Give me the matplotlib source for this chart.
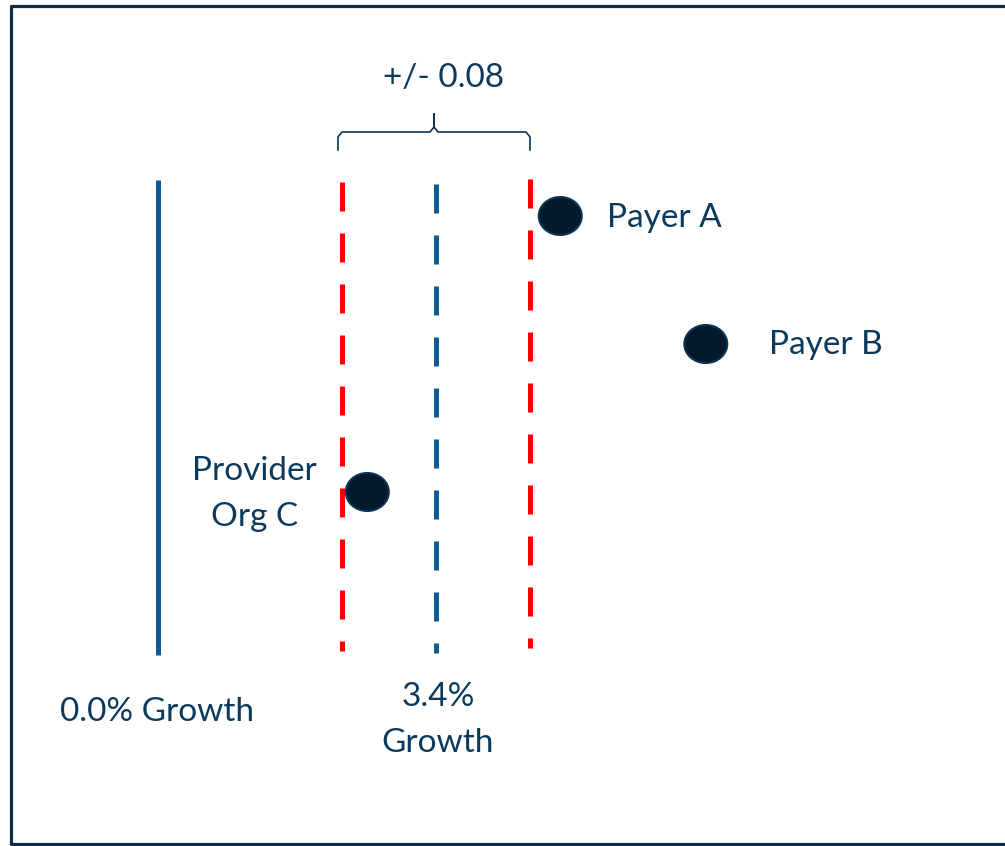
import numpy as np
import matplotlib
matplotlib.use("Agg")
import matplotlib.pyplot as plt
from matplotlib.patches import Ellipse
from matplotlib.lines import Line2D

plt.rcParams['font.family'] = ['Lato', 'DejaVu Sans']

# growth rates (%) and bands
base_growth = 0.0
target_growth = 3.4
band = 1.15
band_label = "+/- 0.08"

# organisations: growth (%) and vertical position (chart units, top = 0)
org_names = ["Payer A", "Payer B", "Provider\nOrg C"]
org_growth = [4.92, 6.70, 2.56]
org_pos = [216, 344, 492]

text_col = "#0b3a5c"
blue = "#0f5a91"
red = "#ff0000"
dot_col = "#021a2b"
fs = 24

px_per_pct = 81.76
fig = plt.figure(figsize=(10.05, 8.46), dpi=100)
ax = fig.add_axes([0, 0, 1, 1])
ax.set_xlim(-158 / px_per_pct, (1005 - 158) / px_per_pct)
ax.set_ylim(846, 0)
ax.axis("off")

def px(v):
    return v / px_per_pct

# frame (left, top, bottom; open on the right)
fig.add_artist(Line2D([1.2, 11 / 1005, 11 / 1005, 1.2],
                      [1 - 6 / 846, 1 - 6 / 846, 1 - 844 / 846, 1 - 844 / 846],
                      transform=fig.transFigure, color="#0d2e4a", lw=2.3))

# baseline
ax.plot([base_growth, base_growth], [180, 655], color=blue, lw=3.6, solid_capstyle="butt")
# target and band
ax.plot([target_growth, target_growth], [184, 653], color=blue, lw=3.6,
        dashes=(5.8, 4.4), dash_capstyle="butt")
ax.plot([target_growth - band] * 2, [182, 651], color=red, lw=3.6,
        dashes=(5.8, 4.4), dash_capstyle="butt")
ax.plot([target_growth + band] * 2, [179, 648], color=red, lw=3.6,
        dashes=(5.8, 4.4), dash_capstyle="butt")

# brace over band
l = target_growth - band - px(4)
r = target_growth + band
m = (l + r) / 2
c = px(4)
brace = [(l, 150), (l, 137), (l + c, 132), (m - c, 132), (m, 127), (m, 114),
         (m, 127), (m + c, 132), (r - c, 132), (r, 137), (r, 150)]
ax.plot([p[0] for p in brace], [p[1] for p in brace], color="#0d3452", lw=1.2)
ax.text(m + px(10), 78, band_label, color=text_col, fontsize=fs, ha="center", va="center")

# organisations
for name, g, y in zip(org_names, org_growth, org_pos):
    ax.add_patch(Ellipse((g, y), px(43), 38, facecolor=dot_col, edgecolor="#0f3352", lw=1.5, zorder=3))
ax.text(org_growth[0] + px(47), org_pos[0] + 2, org_names[0], color=text_col, fontsize=fs,
        ha="left", va="center")
ax.text(org_growth[1] + px(63), org_pos[1] + 1, org_names[1], color=text_col, fontsize=fs,
        ha="left", va="center")
ax.text(org_growth[2] - px(113), org_pos[2] + 2, org_names[2], color=text_col, fontsize=fs,
        ha="center", va="center", linespacing=1.68)

# axis labels
ax.text(base_growth - px(98), 712, f"{base_growth:.1f}% Growth", color=text_col, fontsize=fs,
        ha="left", va="center")
ax.text(target_growth + px(2), 720, f"{target_growth:.1f}%\nGrowth", color=text_col, fontsize=fs,
        ha="center", va="center", linespacing=1.68)

fig.savefig("out.png", dpi=100)
